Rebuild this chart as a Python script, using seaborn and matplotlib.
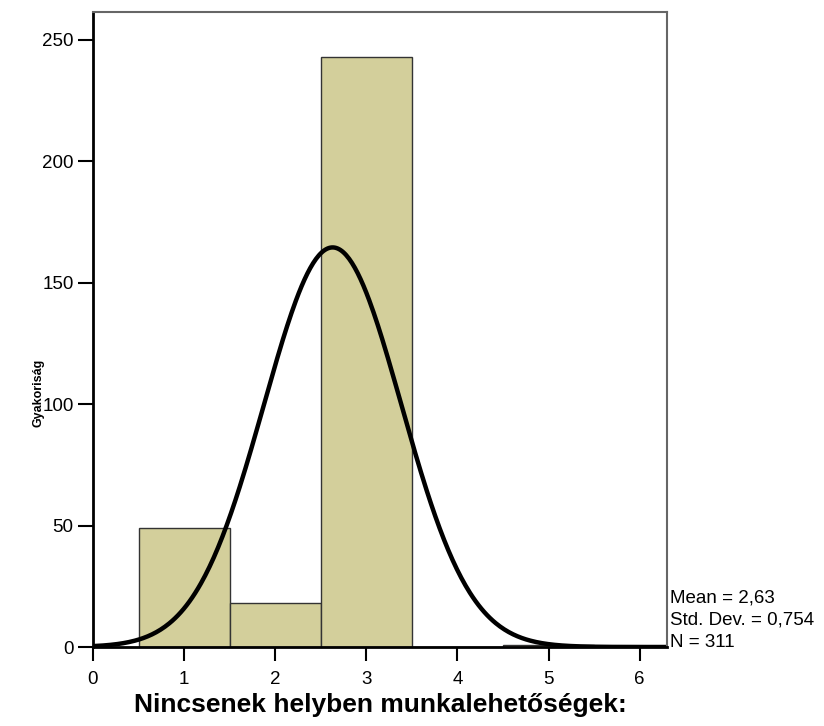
import numpy as np
import matplotlib
matplotlib.use('Agg')
import matplotlib.pyplot as plt
import seaborn as sns

# Histogram data (response categories and their counts)
categories = [1, 2, 3, 4, 5]
counts = [49, 18, 243, 0, 1]
bin_edges = [0.5, 1.5, 2.5, 3.5, 4.5, 5.5]

# Summary statistics shown at the side
mean_val = 2.63
std_val = 0.754
n_val = 311

x_ticks = [0, 1, 2, 3, 4, 5, 6]
y_ticks = [0, 50, 100, 150, 200, 250]

sns.set_style('white')
plt.rcParams['font.family'] = ['Liberation Sans', 'DejaVu Sans']
plt.rcParams['text.color'] = 'black'

fig = plt.figure(figsize=(8.24, 7.26), dpi=100)
ax = fig.add_axes([93 / 824, 1 - 647 / 726, (667 - 93) / 824, (647 - 12) / 726])

sns.histplot(x=categories, weights=counts, bins=bin_edges, ax=ax,
             color='#d3cf9b', alpha=1.0, edgecolor='#333333', linewidth=1.0)

# fitted normal curve
xs = np.linspace(0, 6.3, 400)
pdf = np.exp(-0.5 * ((xs - mean_val) / std_val) ** 2) / (std_val * np.sqrt(2 * np.pi))
sns.lineplot(x=xs, y=pdf * n_val * 1.0, ax=ax, color='black', linewidth=3.2)

ax.set_xlim(0, 6.3)
ax.set_ylim(0, 261.5)
ax.set_xticks(x_ticks)
ax.set_yticks(y_ticks)
ax.tick_params(axis='both', direction='out', width=1.5, labelsize=13.5,
               colors='black', labelcolor='black', bottom=True, left=True)
ax.tick_params(axis='x', length=10, pad=7)
ax.tick_params(axis='y', length=11, pad=3)

for side in ['left', 'bottom']:
    ax.spines[side].set_color('black')
    ax.spines[side].set_linewidth(2)
for side in ['top', 'right']:
    ax.spines[side].set_color('#666666')
    ax.spines[side].set_linewidth(1.5)

ax.set_xlabel('Nincsenek helyben munkalehetőségek:', fontsize=19,
              fontweight='bold', labelpad=4, color='black')
ax.set_ylabel('Gyakoriság', fontsize=9, fontweight='bold', color='black')
ax.yaxis.set_label_coords(-0.085, 0.4)

stats_text = ('Mean = ' + f'{mean_val:.2f}'.replace('.', ',') + '\n'
              + 'Std. Dev. = ' + f'{std_val:.3f}'.replace('.', ',') + '\n'
              + f'N = {n_val}')
ax.text(1.006, -0.006, stats_text, transform=ax.transAxes, ha='left',
        va='bottom', fontsize=13.5, linespacing=1.38, color='black')

fig.savefig('out.png', dpi=100)
plt.close(fig)
